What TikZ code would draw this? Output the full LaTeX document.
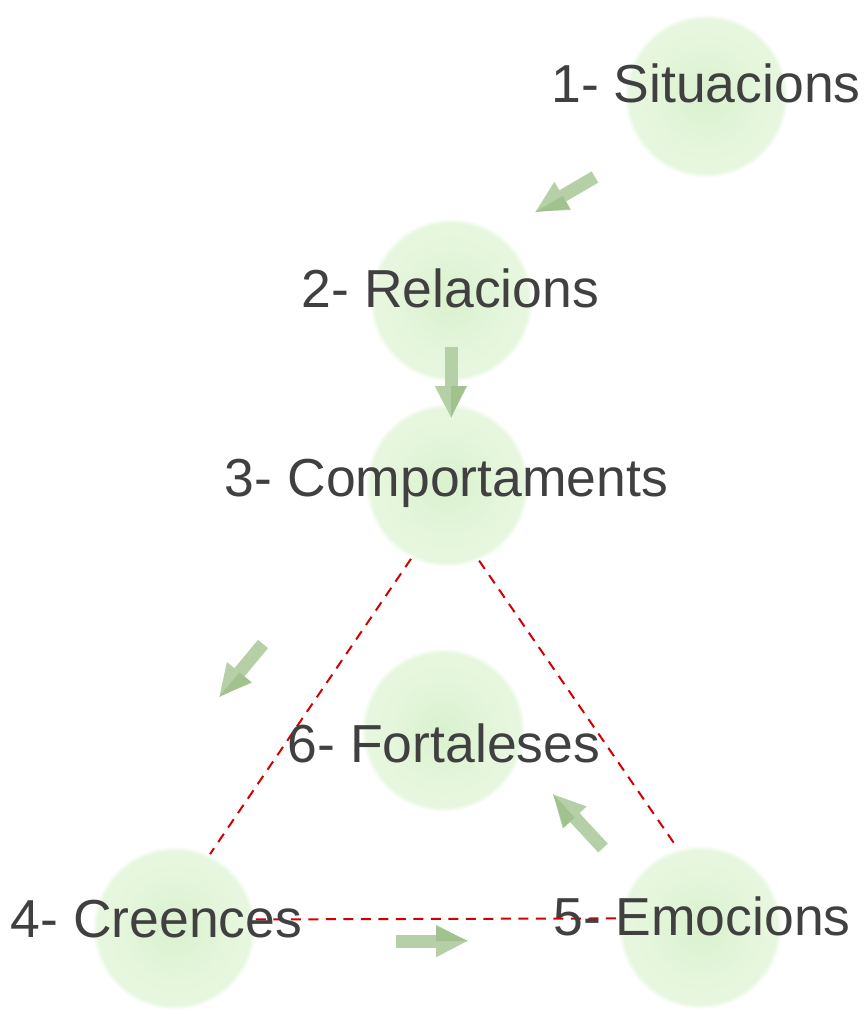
\documentclass[tikz,border=0pt]{standalone}
\usepackage{fontspec}
\setmainfont{Liberation Sans}
\usetikzlibrary{arrows.meta,calc}
\definecolor{blobin}{RGB}{218,241,206}
\definecolor{blobout}{RGB}{231,247,223}
\definecolor{txt}{RGB}{64,64,64}
\definecolor{arrlight}{RGB}{181,208,166}
\definecolor{arrdark}{RGB}{161,194,143}
\definecolor{dashred}{RGB}{210,0,0}
\pgfdeclareradialshading{blob}{\pgfpoint{0bp}{0bp}}{color(0bp)=(blobin); color(21bp)=(blobout); color(23.5bp)=(blobout); color(25bp)=(white); color(50bp)=(white)}
\tikzset{
  blobnode/.style={circle, minimum size=164pt, inner sep=0pt, shading=blob},
  lbl/.style={anchor=base, inner sep=0pt, text=txt, font=\fontsize{53.5}{60}\selectfont},
  redline/.style={draw=dashred, line width=2pt, dash pattern=on 10pt off 7.5pt},
  blockarrow/.style={draw=arrlight, line width=13pt, -{Triangle[length=32pt,width=30pt]}},
}
\newcommand{\darkhalf}[2]{%
  \fill[arrdark] (#2) -- ($(#2)!32pt!(#1)$) -- ($($(#2)!32pt!(#1)$)!15pt!90:(#2)$) -- cycle;}
\begin{document}
\begin{tikzpicture}[x=1pt,y=-1pt]
\useasboundingbox (0,0) rectangle (866,1011);
% circles
\node[blobnode] (c1) at (706,96) {};
\node[blobnode] (c2) at (451,300) {};
\node[blobnode] (c3) at (447,485) {};
\node[blobnode] (c6) at (443,730) {};
\node[blobnode] (c4) at (174,928) {};
\node[blobnode] (c5) at (700,927) {};
% dashed triangle
\draw[redline] (c3.-116) -- (c4.64);
\draw[redline] (c3.-67) -- (c5.106);
\draw[redline] (c4.6) -- (c5.174);
% arrows
\coordinate (a1s) at (595,177); \coordinate (a1e) at (535,212);
\coordinate (a2s) at (451,347); \coordinate (a2e) at (451,418);
\coordinate (a3s) at (263,644); \coordinate (a3e) at (219,697);
\coordinate (a4s) at (603,848); \coordinate (a4e) at (553,794);
\coordinate (a5s) at (396,941); \coordinate (a5e) at (468,941);
\foreach \s/\e in {a1s/a1e,a2s/a2e,a3s/a3e,a4s/a4e,a5s/a5e}{
  \draw[blockarrow] (\s) -- (\e);
  \darkhalf{\s}{\e}
}
% labels
\node[lbl] (t1) at (706,103) {1- Situacions};
\node[lbl] (t2) at (450.5,307) {2- Relacions};
\node[lbl] (t3) at (446.5,496) {3- Comportaments};
\node[lbl] (t6) at (444,762) {6- Fortaleses};
\node[lbl] (t4) at (156.5,937) {4- Creences};
\node[lbl] (t5) at (702,935) {5- Emocions};
\end{tikzpicture}
\end{document}
